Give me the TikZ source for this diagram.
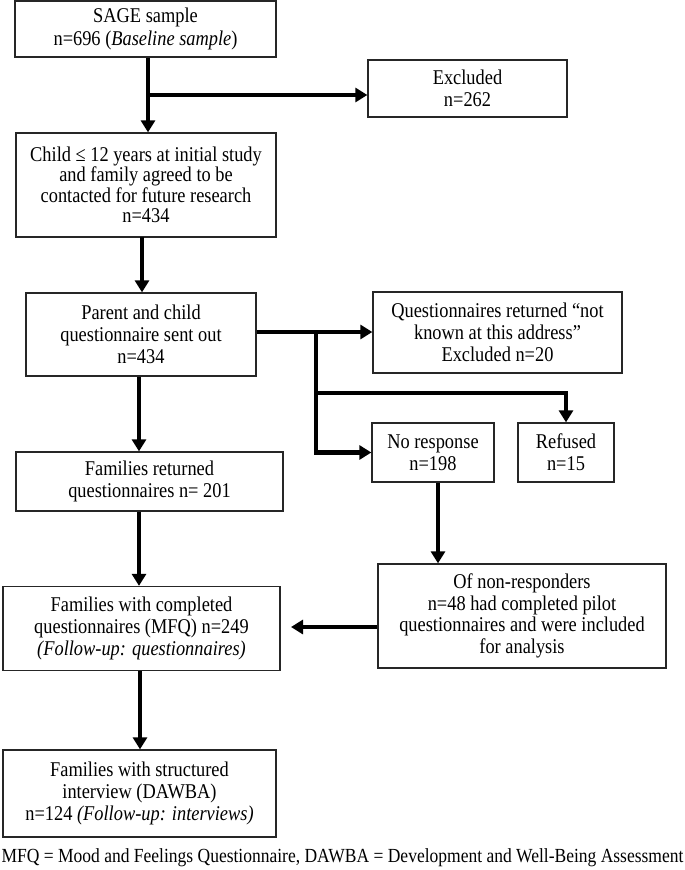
\documentclass[tikz,border=0pt]{standalone}
\usepackage{fontspec}
\setmainfont[FakeStretch=0.875]{Liberation Serif}
\usetikzlibrary{arrows.meta}
\tikzset{
  box/.style={draw=black!85, line width=1.3pt, align=center, inner sep=0pt,
    font=\fontsize{21}{21.7}\selectfont},
  conn/.style={line width=4.5pt, -{Triangle[length=12pt,width=14pt]}},
}
\begin{document}
\begin{tikzpicture}[x=1pt,y=-1pt]
\useasboundingbox (0,0) rectangle (685,870);
\node[box, minimum width=261pt, minimum height=56pt, font=\fontsize{21}{23}\selectfont] (b1) at (145.5,29) {SAGE sample\\n=696 (\textit{Baseline sample})};
\node[box, minimum width=199pt, minimum height=57pt] (exc) at (467.5,88.5) {Excluded\\n=262};
\node[box, minimum width=260pt, minimum height=104pt, font=\fontsize{21}{20.5}\selectfont] (b2) at (146,185) {Child ≤ 12 years at initial study\\and family agreed to be\\contacted for future research\\n=434};
\node[box, minimum width=230pt, minimum height=83pt] (b3) at (141,334.5) {Parent and child\\questionnaire sent out\\n=434};
\node[box, minimum width=249pt, minimum height=81pt] (q) at (497.5,332.5) {Questionnaires returned “not\\known at this address”\\Excluded n=20};
\node[box, minimum width=122pt, minimum height=59pt] (nr) at (433,452.5) {No response\\n=198};
\node[box, minimum width=96pt, minimum height=59pt] (ref) at (566,452.5) {Refused\\n=15};
\node[box, minimum width=267pt, minimum height=59pt] (b4) at (149.5,481.5) {Families returned\\questionnaires n= 201};
\node[box, minimum width=288pt, minimum height=104pt] (b6) at (522,616) {Of non-responders\\n=48 had completed pilot\\questionnaires and were included\\for analysis};
\node[box, minimum width=277pt, minimum height=84pt] (b5) at (141.5,628.5) {Families with completed\\questionnaires (MFQ) n=249\\\textit{(Follow-up: questionnaires)}};
\node[box, minimum width=273pt, minimum height=87pt] (b7) at (139.5,793.5) {Families with structured\\interview (DAWBA)\\n=124 \textit{(Follow-up: interviews)}};
\node[font=\fontsize{20}{22}\selectfont, inner sep=0pt] (foot) at (342.5,858) {MFQ = Mood and Feelings Questionnaire, DAWBA = Development and Well-Being Assessment};

\coordinate (j1) at (148,95);
\coordinate (j2) at (316,332);
\coordinate (j3) at (316,393);
\coordinate (j4) at (566,393);
\coordinate (t5) at (291,627);

\draw[conn] (b1.south -| j1) -- (b2.north -| j1);
\draw[conn] (j1) -- (exc.west |- j1);
\draw[conn] (142,237) -- (b3.north -| 142,0);
\draw[conn] (b3.east |- j2) -- (q.west |- j2);
\draw[conn] (j2) -- (316,452.5) -- (nr.west);
\draw[conn] (j3) -- (j4) -- (ref.north);
\draw[conn] (b3.south -| 139,0) -- (b4.north -| 139,0);
\draw[conn] (b4.south -| 139,0) -- (b5.north -| 139,0);
\draw[conn] (nr.south -| 438,0) -- (b6.north -| 438,0);
\draw[conn] (b6.west |- t5) -- (t5);
\draw[conn] (b5.south -| 140,0) -- (b7.north -| 140,0);
\end{tikzpicture}
\end{document}
